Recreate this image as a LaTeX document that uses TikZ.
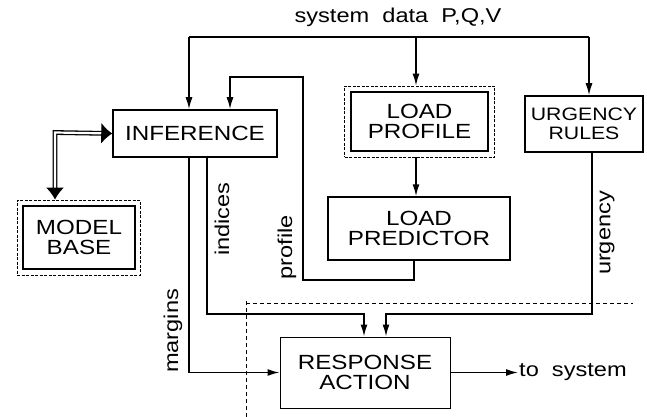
\documentclass[tikz,border=0pt]{standalone}
\usepackage{fontspec}
\setmainfont[FakeStretch=1.18]{Liberation Sans}
\usetikzlibrary{arrows.meta}
\begin{document}
\begin{tikzpicture}[x=1pt,y=-1pt,
  lbl/.style={font=\fontsize{20}{21}\selectfont},
  box/.style={draw, line width=1.5pt, inner sep=0pt, align=center, font=\fontsize{20.5}{20}\selectfont},
  dbox/.style={draw, line width=0.8pt, dash pattern=on 3pt off 1.5pt, inner sep=0pt},
  line/.style={line width=1.5pt},
  arr/.style={line width=1.5pt, -{Latex[length=12pt,width=7pt]}},
  sep/.style={line width=0.8pt, dash pattern=on 4pt off 3pt}]
\useasboundingbox (0,0) rectangle (647,417);
% nodes
\node[box, minimum width=164pt, minimum height=47pt] (inf) at (195,133.5) {INFERENCE};
\node[box, minimum width=137pt, minimum height=59pt] (lp) at (419.5,121.5) {LOAD\\PROFILE};
\node[dbox, minimum width=150pt, minimum height=71pt] (lpo) at (419.5,121.5) {};
\node[box, minimum width=118pt, minimum height=56pt, font=\fontsize{18}{19}\selectfont] (ur) at (584,124) {URGENCY\\RULES};
\node[box, minimum width=182pt, minimum height=63pt] (pred) at (419,228.5) {LOAD\\PREDICTOR};
\node[box, minimum width=112pt, minimum height=63pt] (mb) at (79,237.5) {MODEL\\BASE};
\node[dbox, minimum width=123pt, minimum height=75pt] (mbo) at (78.5,237.5) {};
\node[box, line width=1pt, minimum width=170pt, minimum height=71pt] (ra) at (365,372.5) {RESPONSE\\ACTION};
% system data bus
\node[lbl] (sd) at (398,17) {system\ \ data\ \ P,Q,V};
\coordinate (tl) at (189,37);
\coordinate (tm) at (416,37);
\coordinate (tr) at (589,37);
\draw[line] (tl) -- (tr);
\draw[arr] (tl) -- (tl |- inf.north);
\draw[arr] (tm) -- (tm |- lpo.north);
\draw[arr] (tr) -- (tr |- ur.north);
\draw[arr] (tm |- lpo.south) -- (tm |- pred.north);
% profile feedback
\coordinate (pb) at (414,280);
\coordinate (pf) at (303,280);
\coordinate (pt) at (230,77);
\draw[arr] (pb |- pred.south) -- (pb) -- (pf) -- (pf |- pt) -- (pt) -- (pt |- inf.north);
% indices
\coordinate (ib) at (207,314);
\coordinate (ie) at (364,314);
\draw[arr] (ib |- inf.south) -- (ib) -- (ie) -- (ie |- ra.north);
% urgency
\coordinate (ub) at (592,314);
\coordinate (ue) at (386,314);
\draw[arr] (ub |- ur.south) -- (ub) -- (ue) -- (ue |- ra.north);
% margins
\coordinate (mg) at (189,372.5);
\draw[arr] (mg |- inf.south) -- (mg) -- (ra.west);
% output
\coordinate (out) at (518,372.5);
\draw[arr] (ra.east) -- (out);
\node[lbl, anchor=west, inner sep=1pt] (ts) at (out) {to\ \ system};
% rotated labels
\node[lbl, rotate=90] (li) at (222,219) {indices};
\node[lbl, rotate=90] (lpf) at (287,247) {profile};
\node[lbl, rotate=90] (lm) at (173,331) {margins};
\node[lbl, rotate=90] (lu) at (607,233) {urgency};
% separator
\coordinate (s1) at (246,417);
\coordinate (s2) at (246,300);
\coordinate (s3) at (246,303);
\coordinate (s4) at (633,303);
\draw[sep] (s1) -- (s2);
\draw[sep] (s3) -- (s4);
% model base link
\coordinate (dc) at (55,132.5);
\draw[double, double distance=2.2pt, line width=1.3pt, {Latex[length=12pt,width=18pt]}-{Latex[length=11pt,width=21pt]}] (dc |- mbo.north) -- (dc) -- (inf.west);
\end{tikzpicture}
\end{document}
